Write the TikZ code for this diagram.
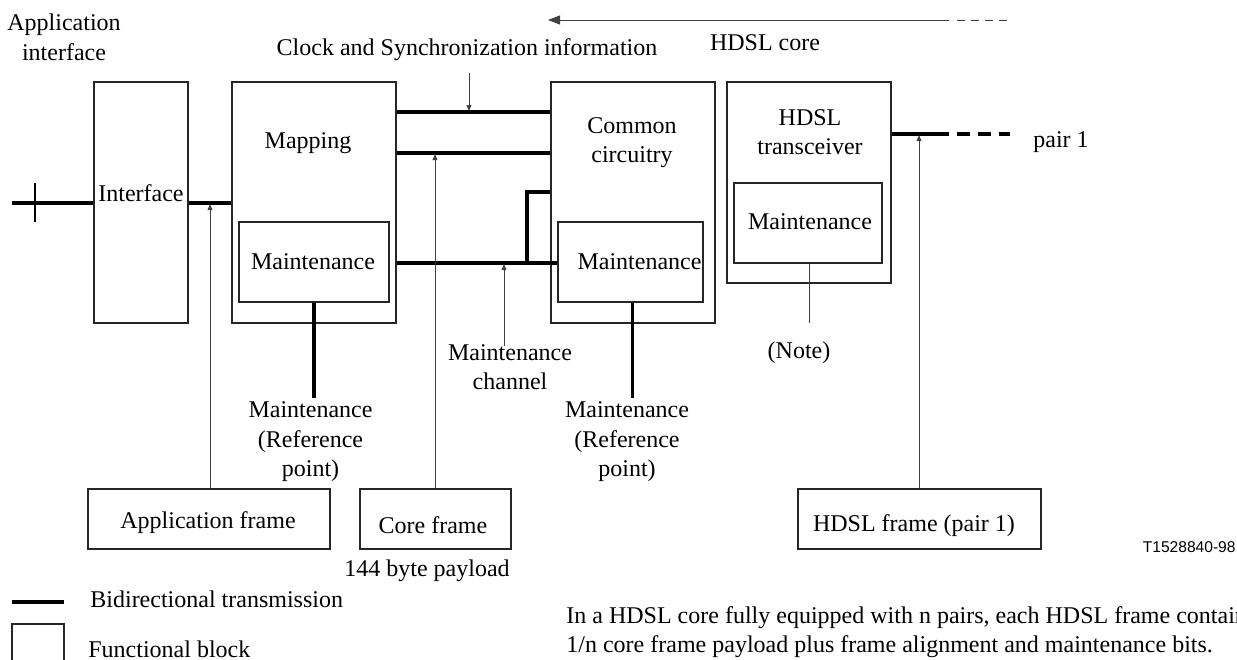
\documentclass[tikz,border=0pt]{standalone}
\usepackage{fontspec}
\setmainfont{Liberation Serif}
\newfontfamily\arialfont{Liberation Sans}
\usetikzlibrary{arrows.meta}
\begin{document}
\begin{tikzpicture}[x=0.5pt,y=-0.5pt,
  font=\fontsize{12}{14.8}\selectfont,
  blk/.style={draw=black!85, line width=0.6pt, inner sep=0pt},
  bus/.style={line width=1.6pt},
  thinline/.style={draw=black!75, line width=0.5pt},
  ptr/.style={thinline, -{Triangle[length=3pt,width=2.4pt]}},
  lbl/.style={inner sep=0pt, align=center},
]
\useasboundingbox (0,0) rectangle (1237,659);

% ---- boxes ----
\node[blk, minimum width=47pt, minimum height=120.5pt] (iface) at (141,202.5) {};
\node[blk, minimum width=82pt, minimum height=120.5pt] (map) at (314,202.5) {};
\node[blk, minimum width=75pt, minimum height=40pt] (mapM) at (314,262) {};
\node[blk, minimum width=82pt, minimum height=120.5pt] (com) at (633,202.5) {};
\node[blk, minimum width=72.5pt, minimum height=40pt] (comM) at (630.5,262) {};
\node[blk, minimum width=82pt, minimum height=100.5pt] (hdsl) at (809,182.5) {};
\node[blk, minimum width=74pt, minimum height=40pt] (hdslM) at (808,223) {};
\node[blk, minimum width=121pt, minimum height=30pt] (appf) at (209,519) {};
\node[blk, minimum width=75.5pt, minimum height=30pt] (coref) at (435.5,519) {};
\node[blk, minimum width=121.5pt, minimum height=30pt] (hdslf) at (919.5,519) {};
\node[blk, minimum width=26pt, minimum height=23pt] (legbox) at (38,647) {};

% ---- texts ----
\node[lbl] (tappif) at (64,37.5) {Application\\interface};
\node[lbl] (tclock) at (467,50) {Clock and Synchronization information};
\node[lbl] (tcore) at (765,43) {HDSL core};
\node[lbl] (tmap) at (308,143) {Mapping};
\node[lbl] (tiface) at (141,193) {Interface};
\node[lbl] (tmapM) at (313,262) {Maintenance};
\node[lbl] (tcom) at (632,142.5) {Common\\circuitry};
\node[lbl] (tcomM) at (639.5,262) {Maintenance};
\node[lbl] (thdsl) at (810,132) {HDSL\\transceiver};
\node[lbl] (thdslM) at (810,222) {Maintenance};
\node[lbl, anchor=west] (tpair) at (1033,142) {pair 1};
\node[lbl] (tref1) at (310.5,442) {Maintenance\\(Reference\\point)};
\node[lbl] (tref2) at (627,442) {Maintenance\\(Reference\\point)};
\node[lbl] (tchan) at (510,367) {Maintenance\\channel};
\node[lbl] (tnote) at (799,353) {(Note)};
\node[lbl] (tappf) at (208,523) {Application frame};
\node[lbl] (tcoref) at (433,525) {Core frame};
\node[lbl] (thdslf) at (914,526) {HDSL frame (pair 1)};
\node[lbl] (tpay) at (427,571) {144 byte payload};
\node[lbl, anchor=east, font=\arialfont\fontsize{7.8}{9}\selectfont] (tid) at (1236,547) {T1528840-98};
\node[lbl, anchor=west] (tbidir) at (90,599) {Bidirectional transmission};
\node[lbl, anchor=west] (tfunc) at (88,649) {Functional block};
\node[lbl, anchor=west, align=left] (tnotetext) at (566,632) {In a HDSL core fully equipped with n pairs, each HDSL frame contains\\1/n core frame payload plus frame alignment and maintenance bits.};

% ---- coordinates ----
\coordinate (lin) at (12,203);
\coordinate (tickT) at (35,183);
\coordinate (tickB) at (35,222);
\coordinate (brk) at (527,192);
\coordinate (brk2) at (527,263);
\coordinate (clockTop) at (469,73);
\coordinate (pairEnd) at (949,134);
\coordinate (pairDash) at (1010,134);
\coordinate (refEnd1) at (314,398);
\coordinate (refEnd2) at (632.5,398);
\coordinate (noteEnd) at (809,323);
\coordinate (topDash) at (1010,20);
\coordinate (topSolid) at (949,20);
\coordinate (topTip) at (548,20);
\coordinate (legL) at (12,602);
\coordinate (legR) at (64,602);

% ---- buses ----
\draw[bus] (lin) -- (iface.west |- lin);
\draw[line width=1pt] (tickT) -- (tickB);
\draw[bus] (iface.east |- lin) -- (map.west |- lin);
\draw[bus] (map.east |- 0,112) -- (com.west |- 0,112);
\draw[bus] (map.east |- 0,153) -- (com.west |- 0,153);
\draw[bus] (map.east |- brk2) -- (comM.west |- brk2);
\draw[bus] (brk2) -- (brk) -- (com.west |- brk);
\draw[bus] (mapM.south) -- (refEnd1);
\draw[bus] (comM.south -| refEnd2) -- (refEnd2);
\draw[bus] (hdsl.east |- pairEnd) -- (pairEnd);
\draw[bus, dash pattern=on 6.5pt off 4pt] (pairEnd) ++(8,0) -- (pairDash);
\draw[bus] (legL) -- (legR);

% ---- pointers ----
\draw[ptr] (appf.north -| 210,0) -- (210,204);
\draw[ptr] (coref.north -| 435,0) -- (435,154);
\draw[ptr] (504,346) -- (504,264);
\draw[ptr] (hdslf.north -| 919,0) -- (919,135);
\draw[ptr] (clockTop) -- (469,111);
\draw[thinline] (hdslM.south -| noteEnd) -- (noteEnd);
\draw[thinline, -{Triangle[length=6pt,width=4.5pt]}] (topSolid) -- (topTip);
\draw[thinline, dash pattern=on 4.2pt off 2.8pt] (topSolid) ++(8,0) -- (topDash);
\end{tikzpicture}
\end{document}
